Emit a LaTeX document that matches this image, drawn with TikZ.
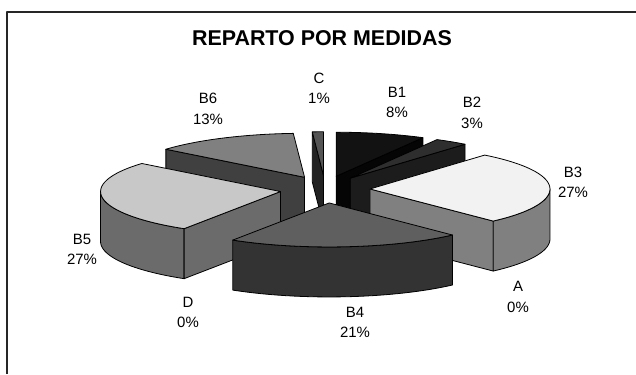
\documentclass[tikz,border=0pt]{standalone}
\usepackage{fontspec}
\setmainfont{Liberation Sans}
\usetikzlibrary{positioning}

\definecolor{bonetop}{HTML}{121212}
\definecolor{boneside}{HTML}{050505}
\definecolor{btwotop}{HTML}{2E2E2E}
\definecolor{btwoside}{HTML}{1C1C1C}
\definecolor{bthreetop}{HTML}{F2F2F2}
\definecolor{bthreeside}{HTML}{808080}
\definecolor{bfourtop}{HTML}{5F5F5F}
\definecolor{bfourside}{HTML}{333333}
\definecolor{bfivetop}{HTML}{C8C8C8}
\definecolor{bfiveside}{HTML}{6B6B6B}
\definecolor{bsixtop}{HTML}{808080}
\definecolor{bsixside}{HTML}{404040}
\definecolor{ctop}{HTML}{555555}
\definecolor{cside}{HTML}{222222}

% pie geometry (radii, depth)
\newcommand{\pierx}{180}
\newcommand{\piery}{44}
\newcommand{\piedep}{50}

% top of a slice: apex, from, to, colour
\newcommand{\pietop}[4]{%
  \filldraw[shift={(#1)},fill=#4] (0,0) -- plot[domain=#2:#3,variable=\t,samples=40] ({\pierx*cos(\t)},{-\piery*sin(\t)}) -- cycle;}
% cut face of a slice: apex, angle, colour
\newcommand{\pieside}[3]{%
  \filldraw[shift={(#1)},fill=#3] (0,0) -- ({\pierx*cos(#2)},{-\piery*sin(#2)}) -- ++(0,\piedep) -- (0,\piedep) -- cycle;}
% outer wall of a slice: apex, from, to, colour
\newcommand{\piewall}[4]{%
  \filldraw[shift={(#1)},fill=#4] plot[domain=#2:#3,variable=\t,samples=30] ({\pierx*cos(\t)},{-\piery*sin(\t)}) -- plot[domain=#3:#2,variable=\t,samples=30] ({\pierx*cos(\t)},{\piedep-\piery*sin(\t)}) -- cycle;}

\begin{document}
\begin{tikzpicture}[x=1bp,y=-1bp,line width=0.8bp,line join=round,
    lbl/.style={align=center,font=\fontsize{15}{20.5}\selectfont}]
    \useasboundingbox (0,0) rectangle (636,374);

    % Frame
    \draw[line width=1.5bp,black!85] (7,374) -- (7,12) -- (636,12);

    % Title
    \node[font=\bfseries\fontsize{21.5}{25}\selectfont] (title) at (322,38) {REPARTO POR MEDIDAS};

    % Apex of each slice (pulled out along its middle)
    \coordinate (b1) at ({325+45*cos(75.6)},{189.4-13.6*sin(75.6)});
    \coordinate (b2) at ({325+45*cos(55.8)},{189.4-13.6*sin(55.8)});
    \coordinate (b3) at ({325+45*cos(1.8)},{189.4-13.6*sin(1.8)});
    \coordinate (b4) at ({325+45*cos(-84.6)},{189.4-13.6*sin(-84.6)});
    \coordinate (b5) at ({325+45*cos(189)},{189.4-13.6*sin(189)});
    \coordinate (b6) at ({325+45*cos(117)},{189.4-13.6*sin(117)});
    \coordinate (c) at ({325+45*cos(91.8)},{189.4-13.6*sin(91.8)});

    % Slices, back to front
    \pieside{b6}{140.4}{bsixside}
    \pietop{b6}{93.6}{140.4}{bsixtop}

    \pieside{c}{93.6}{cside}
    \pietop{c}{90}{93.6}{ctop}

    \pieside{b1}{61.2}{boneside}
    \pietop{b1}{61.2}{90}{bonetop}

    \pieside{b2}{50.4}{btwoside}
    \pietop{b2}{50.4}{61.2}{btwotop}

    \piewall{b5}{180}{237.6}{bfiveside}
    \pieside{b5}{237.6}{bfiveside}
    \pietop{b5}{140.4}{237.6}{bfivetop}

    \pieside{b3}{-46.8}{bthreeside}
    \piewall{b3}{-46.8}{0}{bthreeside}
    \pietop{b3}{-46.8}{50.4}{bthreetop}

    \piewall{b4}{-122.4}{-46.8}{bfourside}
    \pietop{b4}{-122.4}{-46.8}{bfourtop}

    % Labels
    \node[lbl] (lc) at (319,88.5) {C\\1\%};
    \node[lbl] (lb1) at (397,102.5) {B1\\8\%};
    \node[lbl] (lb2) at (472,113) {B2\\3\%};
    \node[lbl] (lb3) at (573,182.5) {B3\\27\%};
    \node[lbl] (la) at (518,297) {A\\0\%};
    \node[lbl] (lb4) at (355,322.5) {B4\\21\%};
    \node[lbl] (ld) at (188,312.5) {D\\0\%};
    \node[lbl] (lb5) at (82,249.5) {B5\\27\%};
    \node[lbl] (lb6) at (208,109) {B6\\13\%};
\end{tikzpicture}
\end{document}
